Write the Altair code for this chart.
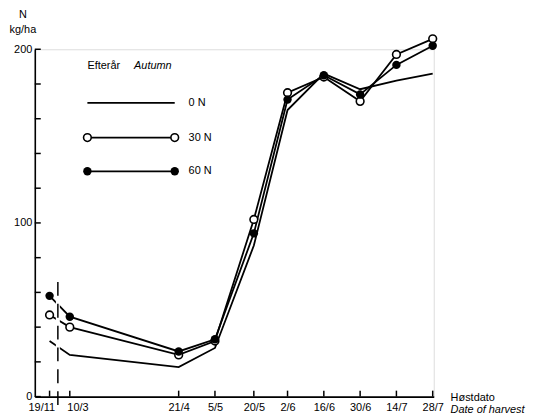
import altair as alt
import pandas as pd

# ---- data ----
dates = ["19/11", "10/3", "21/4", "5/5", "20/5", "2/6", "16/6", "30/6", "14/7", "28/7"]
day_pos = [61.2, 69, 111, 125, 140, 153, 167, 181, 195, 209]   # day number (19/11 placed before the axis break)
n0 = [32, 24, 17, 28, 87, 165, 186, 177, 182, 186]
n30 = [47, 40, 24, 32, 102, 175, 184, 170, 197, 206]
n60 = [58, 46, 26, 33, 94, 171, 185, 174, 191, 202]
series_names = ["0 N", "30 N", "60 N"]
y_tick_values = list(range(0, 201, 20))
y_label_values = [0, 100, 200]
break_day = 64.4
break_span = [66, -9]
gap_span = [62, 8]

FONT = "Liberation Sans"
W, H = 402, 350
X_DOMAIN = [55.5, 209.4]
Y_DOMAIN = [0, 200]

rows = []
for name, vals in zip(series_names, [n0, n30, n60]):
    for d, p, v in zip(dates, day_pos, vals):
        rows.append(dict(series=name, date=d, day=p, n=v))
df = pd.DataFrame(rows)

xs = alt.Scale(domain=X_DOMAIN, nice=False, zero=False)
ys = alt.Scale(domain=Y_DOMAIN, nice=False, zero=False)

label_map = "{" + ",".join(f"'{p}':'{d}'" for p, d in zip(day_pos, dates)) + "}"

x_axis = alt.Axis(values=day_pos, labelExpr=f"{label_map}[datum.value]", ticks=False,
                  grid=False, title=None, domainColor="black", domainWidth=1.6,
                  labelFont=FONT, labelFontSize=11, labelColor="black", labelPadding=5,
                  labelOverlap=False,
                  labelAlign={"expr": "datum.value < 65 ? 'right' : (datum.value < 100 ? 'left' : 'center')"},
                  labelOffset={"expr": "datum.value < 65 ? 5 : (datum.value < 100 ? -3 : 0)"})
y_axis = alt.Axis(values=y_label_values, ticks=False, grid=False, title=None,
                  domainColor="black", domainWidth=1.6, labelFont=FONT, labelFontSize=11,
                  labelColor="black", labelPadding=3)

base = alt.Chart(df)

lines = base.mark_line(color="black", strokeWidth=1.8).encode(
    x=alt.X("day:Q", scale=xs, axis=x_axis),
    y=alt.Y("n:Q", scale=ys, axis=y_axis),
    detail="series:N",
)

brk = pd.DataFrame({"day": [break_day], "gtop": [gap_span[0]], "gbot": [gap_span[1]],
                    "btop": [break_span[0]], "bbot": [break_span[1]]})
gap = alt.Chart(brk).mark_rule(color="white", strokeWidth=4).encode(
    x=alt.X("day:Q", scale=xs), y=alt.Y("gtop:Q", scale=ys), y2="gbot:Q")
dash = alt.Chart(brk).mark_rule(color="black", strokeWidth=1.5, strokeDash=[14, 8]).encode(
    x=alt.X("day:Q", scale=xs), y=alt.Y("btop:Q", scale=ys), y2="bbot:Q")

open_pts = base.transform_filter(alt.datum.series == "30 N").mark_point(
    shape="circle", size=60, filled=True, fill="white", stroke="black", strokeWidth=1.6, opacity=1
).encode(x=alt.X("day:Q", scale=xs), y=alt.Y("n:Q", scale=ys))
filled_pts = base.transform_filter(alt.datum.series == "60 N").mark_circle(
    size=72, color="black", opacity=1
).encode(x=alt.X("day:Q", scale=xs), y=alt.Y("n:Q", scale=ys))

# inward-pointing tick marks (about 6 px long), built from the tick values through the scales
x_tick_len = 6 * (X_DOMAIN[1] - X_DOMAIN[0]) / W
y_tick_len = 6 * (Y_DOMAIN[1] - Y_DOMAIN[0]) / H
yt = pd.DataFrame({"v": y_tick_values})
y_ticks = alt.Chart(yt).transform_calculate(
    x0=f"{X_DOMAIN[0]}", x1=f"{X_DOMAIN[0] + x_tick_len}"
).mark_rule(color="black", strokeWidth=1.5).encode(
    x=alt.X("x0:Q", scale=xs), x2="x1:Q", y=alt.Y("v:Q", scale=ys))
xt = pd.DataFrame({"day": day_pos})
x_ticks = alt.Chart(xt).transform_calculate(
    y0=f"{Y_DOMAIN[0]}", y1=f"{Y_DOMAIN[0] + y_tick_len}"
).mark_rule(color="black", strokeWidth=1.5).encode(
    x=alt.X("day:Q", scale=xs), y=alt.Y("y0:Q", scale=ys), y2="y1:Q")

one = alt.Data(values=[{}])


def txt(s, x, y, italic=False, align="left", size=11):
    return alt.Chart(one).mark_text(text=s, font=FONT, fontSize=size, align=align,
                                    baseline="middle", color="black",
                                    fontStyle="italic" if italic else "normal").encode(
        x=alt.value(x), y=alt.value(y))


legend_layers = [txt("Efterår", 53, 17), txt("Autumn", 100, 17, italic=True)]
leg_y = [54, 89, 123]
for name, yy in zip(series_names, leg_y):
    legend_layers.append(alt.Chart(one).mark_rule(color="black", strokeWidth=1.8).encode(
        x=alt.value(53), x2=alt.value(141), y=alt.value(yy)))
    legend_layers.append(txt(name, 155, yy))
for xx in [53, 141]:
    legend_layers.append(alt.Chart(one).mark_point(
        shape="circle", size=60, filled=True, fill="white", stroke="black", strokeWidth=1.6, opacity=1
    ).encode(x=alt.value(xx), y=alt.value(leg_y[1])))
    legend_layers.append(alt.Chart(one).mark_circle(size=72, color="black", opacity=1).encode(
        x=alt.value(xx), y=alt.value(leg_y[2])))

other_text = [
    txt("N", -12, -35, align="center"),
    txt("kg/ha", -12, -19, align="center"),
    txt("Høstdato", 419, 351),
    txt("Date of harvest", 419, 364, italic=True),
]

chart = alt.layer(
    lines, gap, dash, open_pts, filled_pts, y_ticks, x_ticks, *legend_layers, *other_text
).properties(
    width=W, height=H,
    autosize=alt.AutoSizeParams(type="none"),
    padding={"left": 27, "top": 40, "right": 98, "bottom": 22},
).configure_view(stroke=None).configure(background="white")

chart.save("out.html", embed_options={"renderer": "svg", "actions": False})
